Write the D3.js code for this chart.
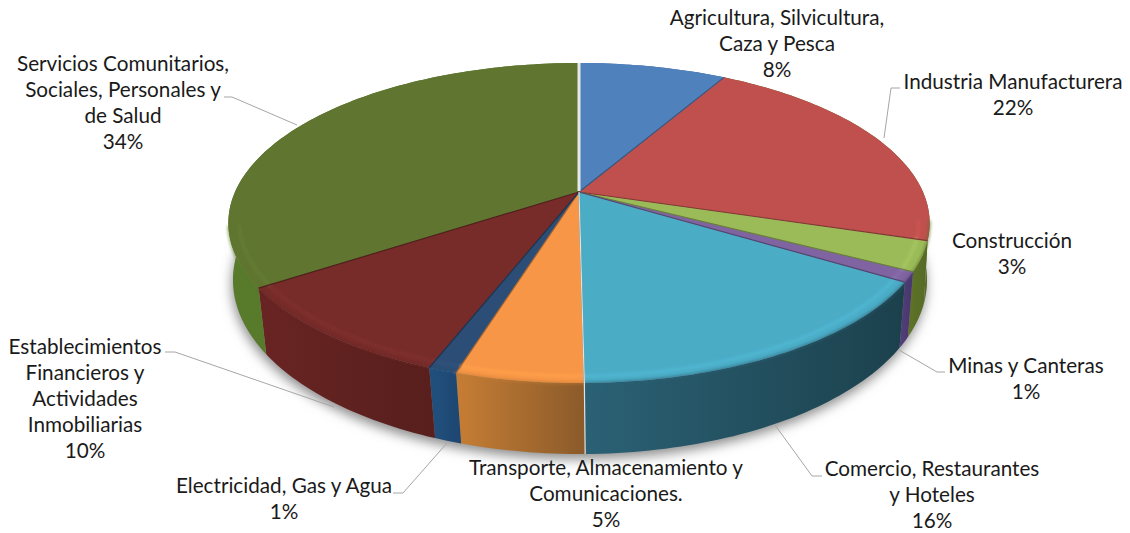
<!DOCTYPE html>
<html>
<head>
<meta charset="utf-8">
<script src="https://d3js.org/d3.v7.min.js"></script>
<style>
  html, body { margin: 0; padding: 0; background: #fff; }
  svg { display: block; }
  text { font-family: Lato, "Open Sans", sans-serif; font-size: 20.7px; fill: #1a1a1a; }
</style>
</head>
<body>
<div id="chart"></div>
<script>
const categories = [
  ['Agricultura, Silvicultura,', 'Caza y Pesca'],
  ['Industria Manufacturera'],
  ['Construcción'],
  ['Minas y Canteras'],
  ['Comercio, Restaurantes', 'y Hoteles'],
  ['Transporte, Almacenamiento y', 'Comunicaciones.'],
  ['Electricidad, Gas y Agua'],
  ['Establecimientos', 'Financieros y', 'Actividades', 'Inmobiliarias'],
  ['Servicios Comunitarios,', 'Sociales, Personales y', 'de Salud']
];
// shares estimated from the slice edges, the labels show them rounded
const shares = [8.2, 21.6, 3, 1, 16, 4.9, 1.1, 9.8, 34.4];

const topColors = ['#4f81bd', '#bf504d', '#9bbb59', '#8064a2', '#4bacc6', '#f79646', '#2c4d75', '#772c2a', '#5f7530'];
const wallLeft = ['#3a5f8c', '#5a6b28', '#5f7427', '#54407a', '#2b6175', '#c47c34', '#214f7c', '#682422', '#587a2b'];
const wallRight = ['#3a5f8c', '#5a6b28', '#566b26', '#4a3870', '#1c414d', '#8a5a2a', '#1d4570', '#571f1d', '#587a2b'];

const width = 1130, height = 533;

// label anchor (centre x, first baseline) and leader polyline, same order as categories
const labelPos = [[777, 25], [1013, 89], [1012, 248], [1026, 373], [932, 476], [606, 475], [284, 493], [85, 354], [123, 71]];
const leaders = [
  null,
  [[884, 138], [891, 88], [900, 88]],
  null,
  [[899, 350], [937, 372], [945, 372]],
  [[775, 425], [812, 476], [822, 476]],
  null,
  [[393, 493], [403, 493], [447, 443]],
  [[165, 352], [175, 352], [334, 407]],
  [[224, 97], [232, 97], [297, 125]]
];

// Perspective view of the two disc faces. k is the foreshortening of the tilt.
const topFace = { cx: 579, cy: 192, R: 344, B: 154, k: 0.194 };
const baseFace = { cx: 580, cy: 250.4, R: 342, B: 169, k: 0.17 };

// front part of the rim that gets the bevel highlight
const rimStart = 1.75, rimEnd = 4.5;

function project(face, angle, r = 1) {
  const f = 1 / (1 + face.k * r * Math.cos(angle));
  return [
    face.cx + face.R * r * Math.sin(angle) * f,
    face.cy - face.B * r * Math.cos(angle) * f
  ];
}

function arcPoints(face, a0, a1, r = 1) {
  const n = Math.max(2, Math.ceil((a1 - a0) / 0.02));
  return d3.range(n + 1).map(i => project(face, a0 + (a1 - a0) * i / n, r));
}

const line = d3.line();
const arcs = d3.pie().sort(null).startAngle(0).endAngle(2 * Math.PI)(shares);

const svg = d3.select('#chart').append('svg')
  .attr('width', width)
  .attr('height', height);

const defs = svg.append('defs');
defs.append('filter').attr('id', 'shadowBlur')
  .attr('x', '-10%').attr('y', '-10%').attr('width', '120%').attr('height', '120%')
  .append('feGaussianBlur').attr('stdDeviation', 6);
defs.append('filter').attr('id', 'bevelBlur')
  .attr('filterUnits', 'userSpaceOnUse')
  .attr('x', 0).attr('y', 0).attr('width', width).attr('height', height)
  .append('feGaussianBlur').attr('stdDeviation', 1.5);

arcs.forEach((d, i) => {
  const grad = defs.append('linearGradient')
    .attr('id', 'wall' + i)
    .attr('gradientUnits', 'userSpaceOnUse')
    .attr('x1', Math.min(project(baseFace, d.startAngle)[0], project(baseFace, d.endAngle)[0]))
    .attr('x2', Math.max(project(baseFace, d.startAngle)[0], project(baseFace, d.endAngle)[0]) + 1)
    .attr('y1', 0).attr('y2', 0);
  grad.append('stop').attr('offset', 0).attr('stop-color', wallLeft[i]);
  grad.append('stop').attr('offset', 1).attr('stop-color', wallRight[i]);
});

// soft shadow under the disc
svg.append('path')
  .attr('d', line(arcPoints(baseFace, 0, 2 * Math.PI).map(p => [p[0] - 1, p[1] + 5])) + 'Z')
  .attr('fill', '#8c8c8c')
  .attr('filter', 'url(#shadowBlur)');

// side walls
svg.append('g').selectAll('path')
  .data(arcs)
  .join('path')
  .attr('d', d => line([
    ...arcPoints(topFace, d.startAngle, d.endAngle),
    ...arcPoints(baseFace, d.startAngle, d.endAngle).reverse()
  ]) + 'Z')
  .attr('fill', (d, i) => `url(#wall${i})`);

// top faces
svg.append('g').selectAll('path')
  .data(arcs)
  .join('path')
  .attr('d', d => line([[topFace.cx, topFace.cy], ...arcPoints(topFace, d.startAngle, d.endAngle)]) + 'Z')
  .attr('fill', (d, i) => topColors[i]);

// rounded bevel on the rim of the front slices: a soft highlight, then a soft edge
const rimSlices = arcs
  .map((d, i) => ({ a0: Math.max(d.startAngle, rimStart), a1: Math.min(d.endAngle, rimEnd), i }))
  .filter(d => d.a1 > d.a0);
const rim = svg.append('g').attr('filter', 'url(#bevelBlur)');
rim.selectAll('path.hi')
  .data(rimSlices)
  .join('path')
  .attr('class', 'hi')
  .attr('d', d => line(arcPoints(topFace, d.a0, d.a1, 0.97)))
  .attr('fill', 'none')
  .attr('stroke', d => d3.color(topColors[d.i]).brighter(0.18))
  .attr('stroke-width', 3);
rim.selectAll('path.edge')
  .data(rimSlices)
  .join('path')
  .attr('class', 'edge')
  .attr('d', d => line(arcPoints(topFace, d.a0, d.a1, 1)))
  .attr('fill', 'none')
  .attr('stroke', d => wallLeft[d.i])
  .attr('stroke-width', 1.5);

// dark seams between slices
svg.append('g').selectAll('path')
  .data(arcs.slice(1))
  .join('path')
  .attr('d', d => line([[topFace.cx, topFace.cy], project(topFace, d.startAngle)]))
  .attr('fill', 'none')
  .attr('stroke', (d, i) => d3.color(topColors[i]).darker(1.1))
  .attr('stroke-width', 1.2);

// light gaps at the first slice and at the front
svg.append('path')
  .attr('d', line([[topFace.cx, topFace.cy - 1], project(topFace, 0)]))
  .attr('stroke', '#e8e8e8')
  .attr('stroke-width', 3);
svg.append('path')
  .attr('d', line([
    [topFace.cx, topFace.cy],
    project(topFace, arcs[5].startAngle),
    project(baseFace, arcs[5].startAngle)
  ]))
  .attr('fill', 'none')
  .attr('stroke', '#dfe3e3')
  .attr('stroke-width', 1.2);

// leader lines
svg.append('g').selectAll('path')
  .data(leaders.filter(Boolean))
  .join('path')
  .attr('d', d => line(d))
  .attr('fill', 'none')
  .attr('stroke', '#a6a6a6')
  .attr('stroke-width', 1);

// labels
const pct = d3.format('.0f');
const labels = svg.append('g').selectAll('text')
  .data(arcs)
  .join('text')
  .attr('text-anchor', 'middle')
  .attr('transform', (d, i) => `translate(${labelPos[i][0]},${labelPos[i][1]})`);
labels.selectAll('tspan')
  .data((d, i) => [...categories[i], pct(d.data) + '%'])
  .join('tspan')
  .attr('x', 0)
  .attr('y', (d, i) => i * 26)
  .text(d => d);
</script>
</body>
</html>
